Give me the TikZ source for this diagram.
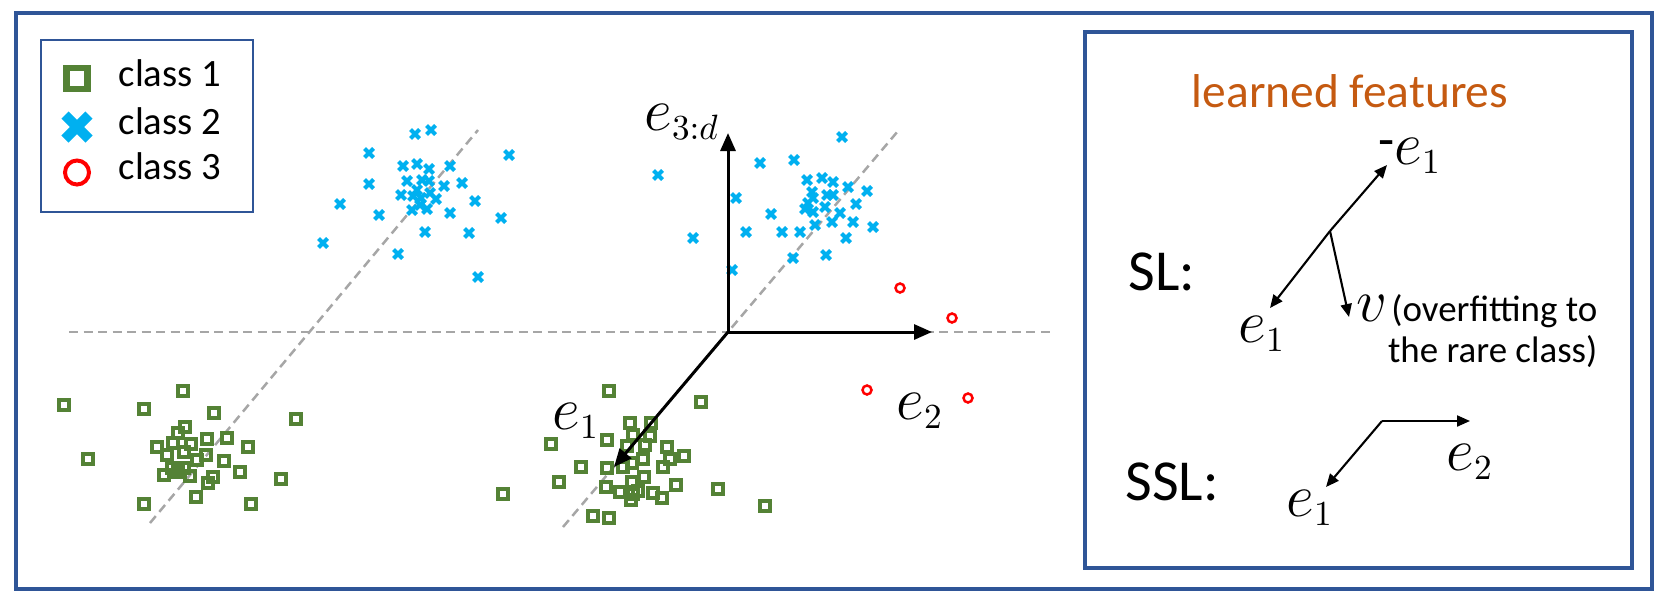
\documentclass[tikz,border=0pt]{standalone}
\usepackage{fontspec}
\setmainfont{Carlito}
\usetikzlibrary{arrows.meta}
\definecolor{frameblue}{HTML}{2F5597}
\definecolor{sqgreen}{HTML}{548235}
\definecolor{xblue}{HTML}{00B0F0}
\definecolor{featorange}{HTML}{C55A11}
\definecolor{guidegray}{HTML}{A6A6A6}
\newcommand{\evec}[1]{e_{\scriptscriptstyle #1}}
\tikzset{
  sqm/.pic={\draw[sqgreen,line width=0.034cm] (-5,-5) rectangle (5,5);},
  xm/.pic={\draw[xblue,line width=0.04cm] (-4.5,-4.5) -- (4.5,4.5) (-4.5,4.5) -- (4.5,-4.5);},
  ringm/.pic={\draw[red,line width=0.025cm] (0,0) circle[radius=0.045cm];}
}

\begin{document}
\begin{tikzpicture}[x=0.01cm,y=-0.01cm,
  guide/.style={guidegray,line width=0.025cm,dash pattern=on 0.09cm off 0.055cm},
  axis/.style={-{Triangle[length=0.18cm,width=0.15cm]},line width=0.03cm},
  vec/.style={-{Triangle[length=0.13cm,width=0.11cm]},line width=0.021cm},
  lab/.style={font=\fontsize{17.28}{20}\selectfont,inner sep=0pt},
  txt/.style={font=\fontsize{11}{13}\selectfont,inner sep=0pt},
  big/.style={font=\fontsize{16.5}{19}\selectfont,inner sep=0pt}]
\useasboundingbox (0,0) rectangle (1664,606);
\draw[frameblue,line width=0.04cm] (16,13) rectangle (1652,589);

\draw[frameblue,line width=0.025cm] (41,40) rectangle (253,212);
\draw[sqgreen,line width=0.065cm] (66.3,67.8) rectangle (87.7,89.2);
\draw[xblue,line width=0.1cm] (65,115) -- (89,139) (65,139) -- (89,115);
\draw[red,line width=0.04cm] (77,172.5) circle[radius=0.12cm];
\node[txt,anchor=base west] (leg1) at (118,87) {class 1};
\node[txt,anchor=base west] (leg2) at (118,134) {class 2};
\node[txt,anchor=base west] (leg3) at (118,179) {class 3};

\draw[guide] (69,332) -- (1051,332);
\draw[guide] (150,523) -- (478,130);
\draw[guide] (563,527) -- (898,131);

\foreach \x/\y in {415/134,431/130,369/153,509/155,403/166,417/164,429/169,450/166,
  369/184,407/181,422/180,429/181,444/186,462/183,401/195,413/196,421/198,430/193,
  436/199,340/204,475/201,412/210,427/209,450/213,379/215,501/218,425/232,469/233,
  323/243,398/254,478/277,417/190,420/205}
  \pic at (\x,\y) {xm};
\foreach \x/\y in {658/175,693/238,736/198,732/270,760/163,794/160,842/137,771/214,
  746/232,782/232,800/232,793/258,826/255,846/238,873/227,867/191,848/187,807/180,
  822/178,833/182,812/192,813/198,827/195,833/195,805/209,813/212,825/207,856/204,
  840/213,853/222,832/222,815/225,808/203}
  \pic at (\x,\y) {xm};
\foreach \x/\y in {183/391,64/405,144/409,214/413,296/419,185/427,178/433,207/439,
  227/438,157/447,173/443,191/444,248/447,167/455,184/452,206/455,88/459,197/460,
  224/461,172/468,184/468,240/472,164/475,190/476,213/477,208/483,281/479,196/497,
  144/504,251/504,178/472}
  \pic at (\x,\y) {sqm};
\foreach \x/\y in {609/391,701/402,630/423,651/423,633/435,650/436,551/444,607/440,
  627/446,645/445,667/447,684/456,670/459,643/459,632/463,581/467,607/468,623/467,
  663/467,559/482,632/482,644/477,606/487,620/492,633/494,638/491,676/485,653/493,
  662/498,631/500,503/494,718/489,765/506,593/516,609/518}
  \pic at (\x,\y) {sqm};
\foreach \x/\y in {900/288,952/318,867/390,968/398}
  \pic at (\x,\y) {ringm};

\coordinate (o) at (728,332);
\coordinate (e3) at (728,133);
\coordinate (e2) at (932,332);
\coordinate (e1) at (614,467);
\draw[axis] (o) -- (e3);
\draw[axis] (o) -- (e2);
\draw[axis] (o) -- (e1);
\node[lab] (le3) at (682,122) {$\evec{3:d}$};
\node[lab] (le1) at (576,421) {$\evec{1}$};
\node[lab] (le2) at (920,411) {$\evec{2}$};

\draw[frameblue,line width=0.04cm] (1085,32) rectangle (1632,568);
\node[txt,font=\fontsize{13.5}{16}\selectfont,text=featorange] (feat) at (1350,91) {learned features};
\node[big] (sl) at (1162,272) {SL:};
\coordinate (slo) at (1330,231);
\coordinate (slm) at (1387,165);
\coordinate (sle) at (1270,308);
\coordinate (slv) at (1349,317);
\draw[vec] (slo) -- (slm);
\draw[vec] (slo) -- (sle);
\draw[vec] (slo) -- (slv);
\node[lab] (lm1) at (1410,156) {\raisebox{0.12em}{\fontsize{15}{17}\selectfont -}$\evec{1}$};
\node[lab] (ls1) at (1262,334) {$\evec{1}$};
\node[lab] (lv) at (1372,308) {$v$};
\node[txt,align=right,anchor=east,font=\fontsize{10.5}{11.8}\selectfont] (ovf) at (1598,331) {(overfitting to\\the rare class)};
\node[big] (ssl) at (1172,482) {SSL:};
\coordinate (sso) at (1382,421);
\coordinate (ss2) at (1470,421);
\coordinate (ss1) at (1326,487);
\draw[vec] (sso) -- (ss2);
\draw[vec] (sso) -- (ss1);
\node[lab] (ls2) at (1470,462) {$\evec{2}$};
\node[lab] (lss1) at (1310,508) {$\evec{1}$};
\end{tikzpicture}
\end{document}
